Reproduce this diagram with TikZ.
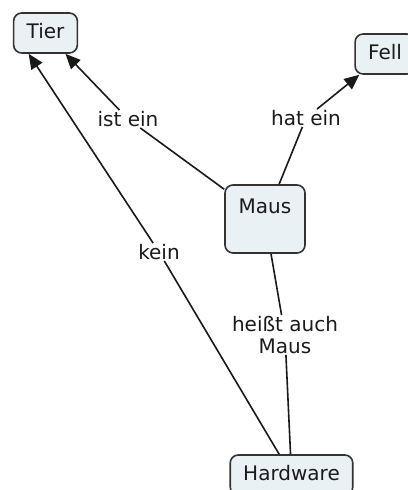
\documentclass[tikz,border=0pt]{standalone}
\usepackage{fontspec}
\setmainfont{DejaVu Sans}
\usetikzlibrary{arrows.meta}
\definecolor{boxfill}{HTML}{E9F1F5}
\definecolor{boxline}{HTML}{333333}
\definecolor{textcol}{HTML}{1A1A1A}
\begin{document}
\begin{tikzpicture}[x=1pt, y=-1pt,
	concept/.style={draw=boxline, fill=boxfill, rounded corners=8pt, line width=1.6pt,
		inner xsep=13pt, inner ysep=11pt, text height=14pt, text depth=4pt,
		text=textcol, font=\fontsize{20}{22}\selectfont},
	linking/.style={inner sep=1pt, align=center, text=textcol, font=\fontsize{20}{22}\selectfont},
	link/.style={line width=1.6pt, draw=black!90},
	tip/.style={-{Triangle[length=15pt, width=13pt]}}]
	\useasboundingbox (0, 0) rectangle (407, 490);
	
	\node[concept] (tier) at (45.5, 33) {Tier};
	\node[concept] (fell) at (385, 54) {Fell};
	\node[concept, minimum width=80pt, text height=17pt, text depth=29pt] (maus) at (265, 219) {Maus};
	\node[concept] (hardware) at (291.5, 475) {Hardware};
	
	\node[linking] (ist-ein) at (128, 119) {ist ein};
	\node[linking] (hat-ein) at (306, 118) {hat ein};
	\node[linking] (kein) at (159, 252) {kein};
	\node[linking] (heisst-auch) at (285, 335) {heißt auch\\Maus};
	
	\draw[link] (maus) -- (ist-ein);
	\draw[link, tip] (ist-ein) -- (tier);
	\draw[link] (maus) -- (hat-ein);
	\draw[link, tip] (hat-ein) -- (fell);
	\draw[link] (hardware) -- (kein);
	\draw[link, tip] (kein) -- (tier.231);
	\draw[link] (maus) -- (heisst-auch);
	\draw[link] (heisst-auch) -- (hardware);
\end{tikzpicture}
\end{document}
